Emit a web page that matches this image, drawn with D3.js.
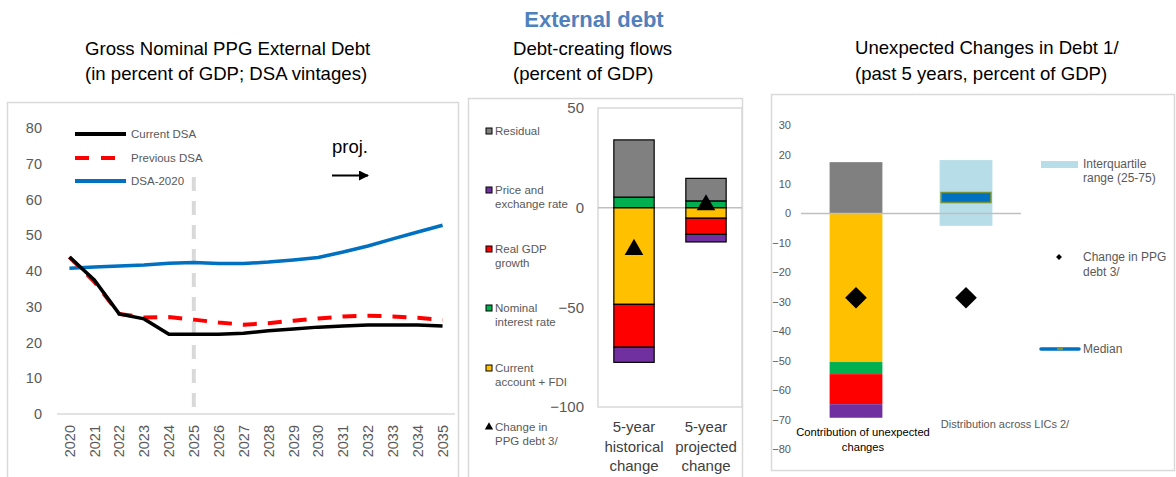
<!DOCTYPE html>
<html><head><meta charset="utf-8">
<script src="https://cdn.jsdelivr.net/npm/d3@7"></script>
<style>
html,body{margin:0;padding:0;background:#fff;}
svg{display:block;font-family:"Liberation Sans",Arial,sans-serif;}
</style></head>
<body>
<svg id="c" width="1176" height="477"></svg>
<script>
// ---------- DATA ----------
const years = [2020,2021,2022,2023,2024,2025,2026,2027,2028,2029,2030,2031,2032,2033,2034,2035];
const currentDSA  = [43.9,37.5,28.0,26.6,22.3,22.3,22.3,22.6,23.3,23.8,24.3,24.6,24.9,24.9,24.9,24.6];
const previousDSA = [43.9,37.0,28.0,27.0,27.1,26.4,25.6,25.0,25.4,26.1,26.7,27.3,27.5,27.3,26.9,26.3];
const dsa2020     = [40.8,41.1,41.4,41.7,42.2,42.4,42.1,42.1,42.5,43.1,43.8,45.3,47.0,49.0,50.9,52.8];
const leftTicks = [0,10,20,30,40,50,60,70,80];
const projStartYear = 2025;

const flowCategories = ["5-year historical change","5-year projected change"];
const flowCategoryLines = [["5-year","historical","change"],["5-year","projected","change"]];
const flowKeys = ["Current account + FDI","Nominal interest rate","Real GDP growth","Price and exchange rate","Residual"];
const flowCurrentAccount = [-48.5,-5.3];
const flowNominalInterest = [5.3,3.4];
const flowRealGDP = [-21.5,-8.1];
const flowPriceExchange = [-7.6,-3.8];
const flowResidual = [28.7,11.3];
const flowChangePPG = [-21.0,1.4];
const flowTicks = [50,0,-50,-100];

const unexpCategories = ["Contribution of unexpected changes","Distribution across LICs 2/"];
const unexpKeys = ["Current account + FDI","Nominal interest rate","Real GDP growth","Price and exchange rate","Residual"];
const unexpContrib = [-50.4,-4.1,-10.2,-4.6,17.4];
const iqrLow = -4.2, iqrHigh = 18.1, licMedian = 5.4;
const unexpChangePPG = [-28.6,-28.6];
const unexpTicks = [30,20,10,0,-10,-20,-30,-40,-50,-60,-70,-80];

// ---------- STYLE ----------
const colors = {
  "Current account + FDI":"#ffc000",
  "Nominal interest rate":"#00b050",
  "Real GDP growth":"#ff0000",
  "Price and exchange rate":"#7030a0",
  "Residual":"#808080"
};
const svg = d3.select("#c");
const txtGray = "#595959";
const titleSize = 18.6;

// Main title
svg.append("text").attr("x",594).attr("y",27).attr("text-anchor","middle")
  .attr("font-size",22).attr("font-weight","bold").attr("fill","#4f81bd").text("External debt");

// ================= LEFT PANEL =================
svg.append("rect").attr("x",7.5).attr("y",102.5).attr("width",451).attr("height",380)
  .attr("fill","none").attr("stroke","#d9d9d9").attr("stroke-width",1.5);
svg.append("text").attr("x",85).attr("y",55).attr("font-size",titleSize).attr("fill","#000").text("Gross Nominal PPG External Debt");
svg.append("text").attr("x",85).attr("y",80).attr("font-size",titleSize).attr("fill","#000").text("(in percent of GDP; DSA vintages)");

const xL = d3.scaleBand().domain(years).range([57,455]);
const yL = d3.scaleLinear().domain([0,80]).range([414,128]);
const xc = d => xL(d) + xL.bandwidth()/2;

const gyL = svg.append("g").attr("transform","translate(46,0)")
  .call(d3.axisLeft(yL).tickValues(leftTicks).tickSize(0).tickPadding(4));
gyL.select(".domain").remove();
gyL.selectAll("text").attr("font-size",14.5).attr("fill",txtGray).attr("font-family","Liberation Sans, Arial, sans-serif");

svg.append("line").attr("x1",57).attr("x2",455).attr("y1",yL(0)).attr("y2",yL(0))
  .attr("stroke","#d9d9d9").attr("stroke-width",1.5);

const gxL = svg.append("g").attr("transform",`translate(0,${yL(0)})`)
  .call(d3.axisBottom(xL).tickSize(0));
gxL.select(".domain").remove();
gxL.selectAll("text").attr("font-size",14.5).attr("fill",txtGray)
  .attr("font-family","Liberation Sans, Arial, sans-serif")
  .attr("text-anchor","end").attr("transform","rotate(-90)")
  .attr("x",-11).attr("y",0).attr("dy","0.36em");

// proj vertical line
svg.append("line").attr("x1",xc(projStartYear)).attr("x2",xc(projStartYear))
  .attr("y1",177).attr("y2",yL(0)).attr("stroke","#d9d9d9").attr("stroke-width",4)
  .attr("stroke-dasharray","14,10");

const line = d3.line().x((d,i)=>xc(years[i])).y(d=>yL(d));
svg.append("path").datum(dsa2020).attr("d",line).attr("fill","none").attr("stroke","#0070c0").attr("stroke-width",3.5);
svg.append("path").datum(previousDSA).attr("d",line).attr("fill","none").attr("stroke","#ff0000").attr("stroke-width",4)
  .attr("stroke-dasharray","14,11");
svg.append("path").datum(currentDSA).attr("d",line).attr("fill","none").attr("stroke","#000").attr("stroke-width",3.5);

// legend left
const legL = [
  {name:"Current DSA",color:"#000",dash:null,y:134},
  {name:"Previous DSA",color:"#ff0000",dash:"14,12",y:158},
  {name:"DSA-2020",color:"#0070c0",dash:null,y:181}
];
legL.forEach(l=>{
  svg.append("line").attr("x1",75).attr("x2",126).attr("y1",l.y).attr("y2",l.y)
    .attr("stroke",l.color).attr("stroke-width",4).attr("stroke-dasharray",l.dash);
  svg.append("text").attr("x",131).attr("y",l.y).attr("dy","0.35em").attr("font-size",11.5)
    .attr("fill",txtGray).text(l.name);
});
svg.append("text").attr("x",332).attr("y",153).attr("font-size",18.5).attr("fill","#000").text("proj.");
svg.append("defs").append("marker").attr("id","arr").attr("viewBox","0 0 10 10").attr("refX",9).attr("refY",5)
  .attr("markerWidth",5).attr("markerHeight",5).attr("orient","auto")
  .append("path").attr("d","M0,0 L10,5 L0,10 z").attr("fill","#000");
svg.append("line").attr("x1",332).attr("x2",368).attr("y1",175.5).attr("y2",175.5)
  .attr("stroke","#000").attr("stroke-width",2).attr("marker-end","url(#arr)");

// ================= MIDDLE PANEL =================
svg.append("rect").attr("x",468.5).attr("y",98.5).attr("width",274).attr("height",390)
  .attr("fill","none").attr("stroke","#d9d9d9").attr("stroke-width",1.5);
svg.append("text").attr("x",513).attr("y",55).attr("font-size",titleSize).attr("fill","#000").text("Debt-creating flows");
svg.append("text").attr("x",513).attr("y",80).attr("font-size",titleSize).attr("fill","#000").text("(percent of GDP)");

const xM = d3.scaleBand().domain(flowCategories).range([598,742]).paddingInner(0.44).paddingOuter(0.22);
const yM = d3.scaleLinear().domain([-100,50]).range([407,108]);
svg.append("rect").attr("x",598).attr("y",108).attr("width",144).attr("height",299)
  .attr("fill","none").attr("stroke","#d9d9d9").attr("stroke-width",1.5);

const gyM = svg.append("g").attr("transform","translate(588,0)")
  .call(d3.axisLeft(yM).tickValues(flowTicks).tickSize(0).tickPadding(4));
gyM.select(".domain").remove();
gyM.selectAll("text").attr("font-size",15).attr("fill",txtGray).attr("font-family","Liberation Sans, Arial, sans-serif");

svg.append("line").attr("x1",598).attr("x2",742).attr("y1",yM(0)).attr("y2",yM(0))
  .attr("stroke","#bfbfbf").attr("stroke-width",1.5);

const flowRows = flowCategories.map((c,i)=>({
  cat:c,
  "Current account + FDI":flowCurrentAccount[i],
  "Nominal interest rate":flowNominalInterest[i],
  "Real GDP growth":flowRealGDP[i],
  "Price and exchange rate":flowPriceExchange[i],
  "Residual":flowResidual[i]
}));
const stackM = d3.stack().keys(flowKeys).offset(d3.stackOffsetDiverging)(flowRows);
stackM.forEach(s=>{
  svg.append("g").selectAll("rect").data(s).join("rect")
    .attr("x",d=>xM(d.data.cat)).attr("width",xM.bandwidth())
    .attr("y",d=>yM(Math.max(d[0],d[1]))).attr("height",d=>Math.abs(yM(d[0])-yM(d[1])))
    .attr("fill",colors[s.key]).attr("stroke","#000").attr("stroke-width",1.2);
});
const tri = d3.symbol().type(d3.symbolTriangle).size(150);
svg.append("g").selectAll("path").data(flowChangePPG).join("path")
  .attr("d",tri).attr("fill","#000")
  .attr("transform",(d,i)=>`translate(${xM(flowCategories[i])+xM.bandwidth()/2},${yM(d)})`);

flowCategoryLines.forEach((lines,i)=>{
  lines.forEach((t,j)=>{
    svg.append("text").attr("x",xM(flowCategories[i])+xM.bandwidth()/2).attr("y",432+j*19.5)
      .attr("text-anchor","middle").attr("font-size",15).attr("fill","#404040").text(t);
  });
});

// middle legend
const legM = [
  {k:"Residual",lines:["Residual"],y:131},
  {k:"Price and exchange rate",lines:["Price and","exchange rate"],y:190},
  {k:"Real GDP growth",lines:["Real GDP","growth"],y:249},
  {k:"Nominal interest rate",lines:["Nominal","interest rate"],y:308},
  {k:"Current account + FDI",lines:["Current","account + FDI"],y:368},
  {k:"tri",lines:["Change in","PPG debt 3/"],y:427}
];
legM.forEach(l=>{
  if(l.k==="tri"){
    svg.append("path").attr("d",d3.symbol().type(d3.symbolTriangle).size(30)).attr("fill","#000")
      .attr("transform",`translate(489,${l.y})`);
  } else {
    svg.append("rect").attr("x",486).attr("y",l.y-3).attr("width",6).attr("height",6)
      .attr("fill",colors[l.k]).attr("stroke","#000").attr("stroke-width",1);
  }
  l.lines.forEach((t,j)=>{
    svg.append("text").attr("x",495).attr("y",l.y+j*14).attr("dy","0.35em").attr("font-size",11.5)
      .attr("fill",txtGray).text(t);
  });
});

// ================= RIGHT PANEL =================
svg.append("rect").attr("x",771.5).attr("y",94.5).attr("width",403).attr("height",376)
  .attr("fill","none").attr("stroke","#d9d9d9").attr("stroke-width",1.5);
svg.append("text").attr("x",855).attr("y",54).attr("font-size",titleSize).attr("fill","#000").text("Unexpected Changes in Debt 1/");
svg.append("text").attr("x",855).attr("y",80).attr("font-size",titleSize).attr("fill","#000").text("(past 5 years, percent of GDP)");

const xR = d3.scaleBand().domain(unexpCategories).range([801,1021]).paddingInner(0.52).paddingOuter(0.26);
const yR = d3.scaleLinear().domain([-80,30]).range([449.3,125]);

const gyR = svg.append("g").attr("transform","translate(795,0)")
  .call(d3.axisLeft(yR).tickValues(unexpTicks).tickSize(0).tickPadding(4));
gyR.select(".domain").remove();
gyR.selectAll("text").attr("font-size",11).attr("fill",txtGray).attr("font-family","Liberation Sans, Arial, sans-serif");

const unexpRow = {cat:unexpCategories[0]};
unexpKeys.forEach((k,i)=>unexpRow[k]=unexpContrib[i]);
const stackR = d3.stack().keys(unexpKeys).offset(d3.stackOffsetDiverging)([unexpRow]);
stackR.forEach(s=>{
  svg.append("g").selectAll("rect").data(s).join("rect")
    .attr("x",d=>xR(d.data.cat)).attr("width",xR.bandwidth())
    .attr("y",d=>yR(Math.max(d[0],d[1]))).attr("height",d=>Math.abs(yR(d[0])-yR(d[1])))
    .attr("fill",colors[s.key]);
});
// IQR
svg.append("rect").attr("x",xR(unexpCategories[1])).attr("width",xR.bandwidth())
  .attr("y",yR(iqrHigh)).attr("height",yR(iqrLow)-yR(iqrHigh)).attr("fill","#b7dee8");
// zero line
svg.append("line").attr("x1",801).attr("x2",1021).attr("y1",yR(0)).attr("y2",yR(0))
  .attr("stroke","#bfbfbf").attr("stroke-width",1.5);
// median
svg.append("rect").attr("x",xR(unexpCategories[1])+1.5).attr("width",xR.bandwidth()-3)
  .attr("y",yR(licMedian)-5).attr("height",10).attr("fill","#0070c0").attr("stroke","#77933c").attr("stroke-width",1.5);
// diamonds
const dia = d3.symbol().type(d3.symbolDiamond2).size(300);
svg.append("g").selectAll("path").data(unexpChangePPG).join("path")
  .attr("d",dia).attr("fill","#000")
  .attr("transform",(d,i)=>`translate(${xR(unexpCategories[i])+xR.bandwidth()/2},${yR(d)})`);

// category labels
svg.append("text").attr("x",863).attr("y",436).attr("text-anchor","middle").attr("font-size",11.2).attr("fill","#000").text("Contribution of unexpected");
svg.append("text").attr("x",863).attr("y",451).attr("text-anchor","middle").attr("font-size",11.2).attr("fill","#000").text("changes");
svg.append("text").attr("x",1005).attr("y",428).attr("text-anchor","middle").attr("font-size",11).attr("fill",txtGray).text(unexpCategories[1]);

// right legend
svg.append("rect").attr("x",1041).attr("y",161).attr("width",37).attr("height",7).attr("fill","#b7dee8");
svg.append("text").attr("x",1083).attr("y",164).attr("dy","0.35em").attr("font-size",12).attr("fill",txtGray).text("Interquartile");
svg.append("text").attr("x",1083).attr("y",178).attr("dy","0.35em").attr("font-size",12).attr("fill",txtGray).text("range (25-75)");
svg.append("path").attr("d",d3.symbol().type(d3.symbolDiamond2).size(22)).attr("fill","#000").attr("transform","translate(1059,257)");
svg.append("text").attr("x",1083).attr("y",257).attr("dy","0.35em").attr("font-size",12).attr("fill",txtGray).text("Change in PPG");
svg.append("text").attr("x",1083).attr("y",272).attr("dy","0.35em").attr("font-size",12).attr("fill",txtGray).text("debt 3/");
svg.append("line").attr("x1",1041).attr("x2",1079).attr("y1",349).attr("y2",349).attr("stroke","#0070c0").attr("stroke-width",3.5).attr("stroke-linecap","round");
svg.append("line").attr("x1",1057).attr("x2",1063).attr("y1",349).attr("y2",349).attr("stroke","#77933c").attr("stroke-width",2);
svg.append("text").attr("x",1083).attr("y",349).attr("dy","0.35em").attr("font-size",12).attr("fill",txtGray).text("Median");
</script>
</body></html>
